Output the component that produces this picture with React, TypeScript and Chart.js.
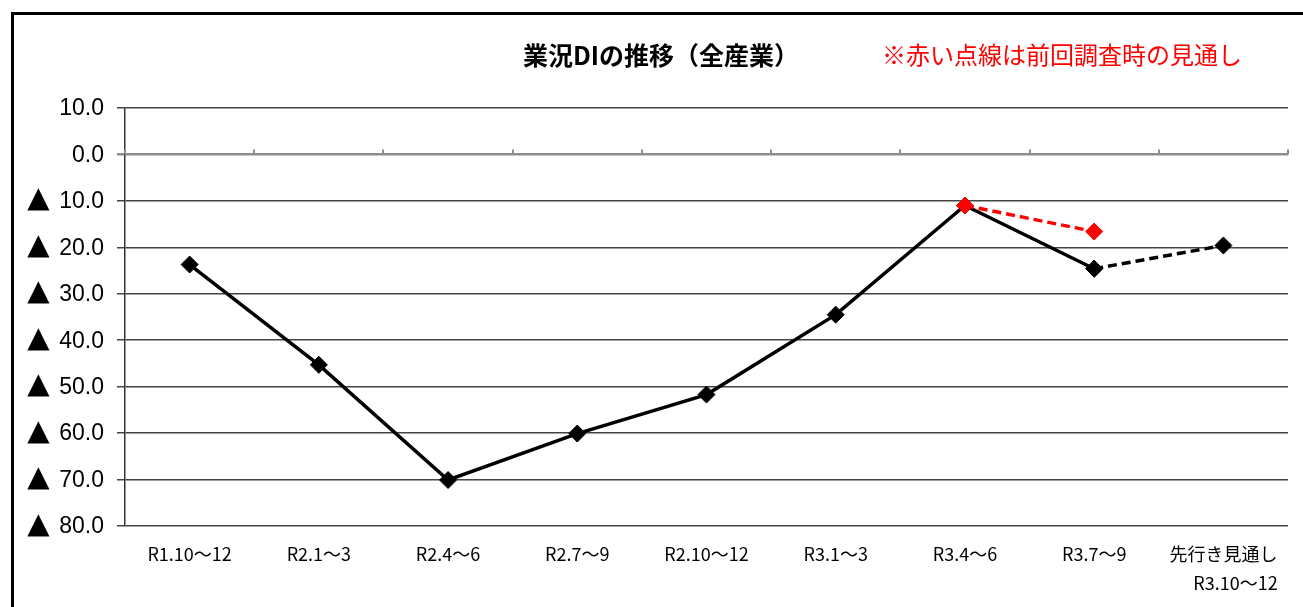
import React, { useEffect, useRef } from 'react';
import { Chart, registerables } from 'chart.js';

Chart.register(...registerables);

// Survey periods (x axis)
const periods = ['R1.10～12', 'R2.1～3', 'R2.4～6', 'R2.7～9', 'R2.10～12', 'R3.1～3', 'R3.4～6', 'R3.7～9', '先行き見通し'];
const outlookSubLabel = '      R3.10～12';

// Business conditions DI, all industries
const actualDI = [-23.7, -45.3, -70.1, -60.1, -51.7, -34.5, -11.0, -24.6, null];
const outlookDI = [null, null, null, null, null, null, null, -24.6, -19.6];
const previousOutlookDI = [null, null, null, null, null, null, -11.0, -16.6, null];

const yMin = -80;
const yMax = 10;
const yStep = 10;

const chartTitle = '業況DIの推移（全産業）';
const noteText = '※赤い点線は前回調査時の見通し';
const negativeMark = '▲';

const W = 1303;
const H = 607;

const decorations = {
  id: 'decorations',
  beforeDatasetsDraw(chart: any) {
    const { ctx, scales } = chart;
    const xs = scales.x;
    const ys = scales.y;
    const y0 = ys.getPixelForValue(0);
    ctx.save();
    // category tick marks on the zero line
    ctx.strokeStyle = '#8c8c8c';
    ctx.lineWidth = 2;
    for (let i = 0; i <= periods.length; i++) {
      const px = Math.round(xs.getPixelForValue(i - 0.5));
      ctx.beginPath();
      ctx.moveTo(px, y0);
      ctx.lineTo(px, y0 - 5);
      ctx.stroke();
    }
    // value axis labels, negatives marked with a triangle
    ctx.fillStyle = '#000';
    ctx.textBaseline = 'middle';
    for (const t of ys.ticks) {
      const v = t.value as number;
      const py = ys.getPixelForValue(v);
      ctx.font = '23px "Liberation Sans", sans-serif';
      ctx.textAlign = 'right';
      ctx.fillText(Math.abs(v).toFixed(1), 104, py + 1);
      if (v < 0) {
        ctx.font = '29px "DejaVu Sans", sans-serif';
        ctx.textAlign = 'center';
        ctx.fillText(negativeMark, 38.5, py - 1);
      }
    }
    ctx.restore();
  },
  afterDraw(chart: any) {
    const { ctx } = chart;
    ctx.save();
    // outer frame
    ctx.strokeStyle = '#000';
    ctx.lineWidth = 3;
    ctx.beginPath();
    ctx.moveTo(12.5, H + 5);
    ctx.lineTo(12.5, 13.5);
    ctx.lineTo(W + 5, 13.5);
    ctx.stroke();

    ctx.textBaseline = 'middle';
    ctx.fillStyle = '#000';
    ctx.font = 'bold 25px "Noto Sans CJK JP", sans-serif';
    ctx.textAlign = 'center';
    ctx.fillText(chartTitle, 661, 55);

    ctx.fillStyle = '#ff0000';
    ctx.font = '24px "Noto Sans CJK JP", sans-serif';
    ctx.textAlign = 'left';
    ctx.fillText(noteText, 882, 55);
    ctx.restore();
  },
};

export default function App() {
  const canvasRef = useRef<HTMLCanvasElement>(null);

  useEffect(() => {
    const canvas = canvasRef.current;
    if (!canvas) return;
    const labels = periods.map((p, i) => (i === periods.length - 1 ? [p, outlookSubLabel] : p));
    const chart = new Chart(canvas, {
      type: 'line',
      data: {
        labels,
        datasets: [
          {
            label: '前回調査時の見通し',
            data: previousOutlookDI,
            borderColor: '#ff0000',
            backgroundColor: '#ff0000',
            borderWidth: 3.5,
            borderDash: [9, 5],
            pointStyle: 'rectRot',
            pointRadius: 8.5,
            pointBorderWidth: 1,
            order: 0,
          },
          {
            label: '業況DI',
            data: actualDI,
            borderColor: '#000',
            backgroundColor: '#000',
            borderWidth: 3.5,
            pointStyle: 'rectRot',
            pointRadius: 8.5,
            pointBorderWidth: 1,
            order: 1,
          },
          {
            label: '先行き見通し',
            data: outlookDI,
            borderColor: '#000',
            backgroundColor: '#000',
            borderWidth: 3.5,
            borderDash: [9, 5],
            pointStyle: 'rectRot',
            pointRadius: 8.5,
            pointBorderWidth: 1,
            order: 2,
          },
        ],
      },
      options: {
        responsive: false,
        animation: false,
        spanGaps: false,
        layout: { padding: { left: 0, right: 15, top: 108, bottom: 0 } },
        plugins: {
          legend: { display: false },
          title: { display: false },
          tooltip: { enabled: false },
        },
        scales: {
          x: {
            type: 'category',
            offset: true,
            grid: { display: false },
            border: { display: false },
            ticks: {
              color: '#000',
              padding: 6,
              maxRotation: 0,
              autoSkip: false,
              font: { family: '"Noto Sans CJK JP", sans-serif', size: 18, lineHeight: 1.6 },
            },
            afterFit(scale: any) {
              scale.height = 81;
            },
          },
          y: {
            min: yMin,
            max: yMax,
            ticks: {
              stepSize: yStep,
              display: false,
            },
            grid: {
              color: (c: any) => (c.tick && c.tick.value === 0 ? '#8c8c8c' : '#444'),
              lineWidth: (c: any) => (c.tick && c.tick.value === 0 ? 2.5 : 1.5),
              tickLength: 8,
            },
            border: { display: true, color: '#333', width: 1.5 },
            afterFit(scale: any) {
              scale.width = 125;
            },
          },
        },
      },
      plugins: [decorations],
    });
    return () => chart.destroy();
  }, []);

  return (
    <canvas
      ref={canvasRef}
      width={W}
      height={H}
      style={{ position: 'absolute', left: 0, top: 0, display: 'block' }}
    />
  );
}
